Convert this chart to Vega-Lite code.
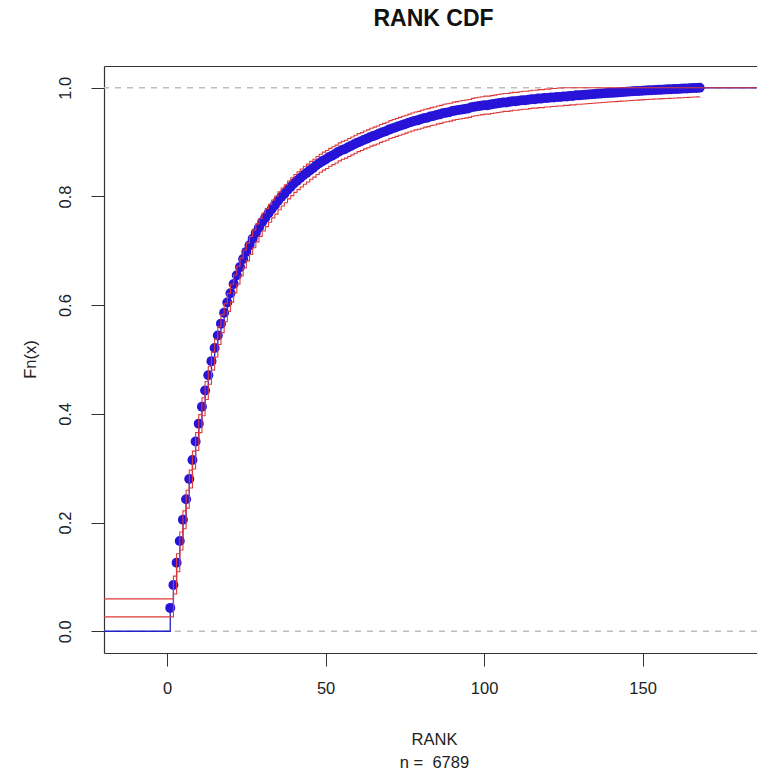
{
  "$schema": "https://vega.github.io/schema/vega-lite/v6.json",
  "autosize": {"type": "none"},
  "padding": {"left": 104, "top": 66, "right": 0, "bottom": 123},
  "width": 653,
  "height": 587,
  "background": "white",
  "title": {"text": "RANK CDF", "fontSize": 23, "fontWeight": "bold", "font": "Liberation Sans", "color": "#111", "anchor": "middle", "frame": "group", "dx": 3, "baseline": "alphabetic", "offset": 17},
  "datasets": {
    "refs": [{"y": 0}, {"y": 1}],
    "cdf": [
      {"x": -20, "F": 0, "lo": 0.0265, "hi": 0.0595},
      {"x": 1, "F": 0.043, "lo": 0.0265, "hi": 0.0595},
      {"x": 2, "F": 0.085, "lo": 0.0685, "hi": 0.1015},
      {"x": 3, "F": 0.126, "lo": 0.1095, "hi": 0.1425},
      {"x": 4, "F": 0.166, "lo": 0.1495, "hi": 0.1825},
      {"x": 5, "F": 0.205, "lo": 0.1885, "hi": 0.2215},
      {"x": 6, "F": 0.243, "lo": 0.2265, "hi": 0.2595},
      {"x": 7, "F": 0.280, "lo": 0.2635, "hi": 0.2965},
      {"x": 8, "F": 0.315, "lo": 0.2985, "hi": 0.3315},
      {"x": 9, "F": 0.349, "lo": 0.3325, "hi": 0.3655},
      {"x": 10, "F": 0.382, "lo": 0.3655, "hi": 0.3985},
      {"x": 11, "F": 0.413, "lo": 0.3965, "hi": 0.4295},
      {"x": 12, "F": 0.443, "lo": 0.4265, "hi": 0.4595},
      {"x": 13, "F": 0.471, "lo": 0.4545, "hi": 0.4875},
      {"x": 14, "F": 0.497, "lo": 0.4805, "hi": 0.5135},
      {"x": 15, "F": 0.521, "lo": 0.5045, "hi": 0.5375},
      {"x": 16, "F": 0.544, "lo": 0.5275, "hi": 0.5605},
      {"x": 17, "F": 0.566, "lo": 0.5495, "hi": 0.5825},
      {"x": 18, "F": 0.586, "lo": 0.5695, "hi": 0.6025},
      {"x": 19, "F": 0.605, "lo": 0.5885, "hi": 0.6215},
      {"x": 20, "F": 0.622, "lo": 0.6055, "hi": 0.6385},
      {"x": 21, "F": 0.639, "lo": 0.6225, "hi": 0.6555},
      {"x": 22, "F": 0.655, "lo": 0.6385, "hi": 0.6715},
      {"x": 23, "F": 0.670, "lo": 0.6535, "hi": 0.6865},
      {"x": 24, "F": 0.685, "lo": 0.6685, "hi": 0.7015},
      {"x": 25, "F": 0.698, "lo": 0.6815, "hi": 0.7145},
      {"x": 26, "F": 0.710, "lo": 0.6935, "hi": 0.7265},
      {"x": 27, "F": 0.722, "lo": 0.7055, "hi": 0.7385},
      {"x": 28, "F": 0.733, "lo": 0.7165, "hi": 0.7495},
      {"x": 29, "F": 0.743, "lo": 0.7265, "hi": 0.7595},
      {"x": 30, "F": 0.753, "lo": 0.7365, "hi": 0.7695},
      {"x": 31, "F": 0.761, "lo": 0.7445, "hi": 0.7775},
      {"x": 32, "F": 0.769, "lo": 0.7525, "hi": 0.7855},
      {"x": 33, "F": 0.777, "lo": 0.7605, "hi": 0.7935},
      {"x": 34, "F": 0.784, "lo": 0.7675, "hi": 0.8005},
      {"x": 35, "F": 0.792, "lo": 0.7755, "hi": 0.8085},
      {"x": 36, "F": 0.799, "lo": 0.7825, "hi": 0.8155},
      {"x": 37, "F": 0.805, "lo": 0.7885, "hi": 0.8215},
      {"x": 38, "F": 0.812, "lo": 0.7955, "hi": 0.8285},
      {"x": 39, "F": 0.818, "lo": 0.8015, "hi": 0.8345},
      {"x": 40, "F": 0.824, "lo": 0.8075, "hi": 0.8405},
      {"x": 41, "F": 0.829, "lo": 0.8125, "hi": 0.8455},
      {"x": 42, "F": 0.834, "lo": 0.8175, "hi": 0.8505},
      {"x": 43, "F": 0.839, "lo": 0.8225, "hi": 0.8555},
      {"x": 44, "F": 0.843, "lo": 0.8265, "hi": 0.8595},
      {"x": 45, "F": 0.848, "lo": 0.8315, "hi": 0.8645},
      {"x": 46, "F": 0.852, "lo": 0.8355, "hi": 0.8685},
      {"x": 47, "F": 0.857, "lo": 0.8405, "hi": 0.8735},
      {"x": 48, "F": 0.861, "lo": 0.8445, "hi": 0.8775},
      {"x": 49, "F": 0.865, "lo": 0.8485, "hi": 0.8815},
      {"x": 50, "F": 0.868, "lo": 0.8515, "hi": 0.8845},
      {"x": 51, "F": 0.872, "lo": 0.8555, "hi": 0.8885},
      {"x": 52, "F": 0.875, "lo": 0.8585, "hi": 0.8915},
      {"x": 53, "F": 0.878, "lo": 0.8615, "hi": 0.8945},
      {"x": 54, "F": 0.882, "lo": 0.8655, "hi": 0.8985},
      {"x": 55, "F": 0.885, "lo": 0.8685, "hi": 0.9015},
      {"x": 56, "F": 0.887, "lo": 0.8705, "hi": 0.9035},
      {"x": 57, "F": 0.890, "lo": 0.8735, "hi": 0.9065},
      {"x": 58, "F": 0.893, "lo": 0.8765, "hi": 0.9095},
      {"x": 59, "F": 0.896, "lo": 0.8795, "hi": 0.9125},
      {"x": 60, "F": 0.899, "lo": 0.8825, "hi": 0.9155},
      {"x": 61, "F": 0.901, "lo": 0.8845, "hi": 0.9175},
      {"x": 62, "F": 0.904, "lo": 0.8875, "hi": 0.9205},
      {"x": 63, "F": 0.906, "lo": 0.8895, "hi": 0.9225},
      {"x": 64, "F": 0.909, "lo": 0.8925, "hi": 0.9255},
      {"x": 65, "F": 0.911, "lo": 0.8945, "hi": 0.9275},
      {"x": 66, "F": 0.913, "lo": 0.8965, "hi": 0.9295},
      {"x": 67, "F": 0.916, "lo": 0.8995, "hi": 0.9325},
      {"x": 68, "F": 0.918, "lo": 0.9015, "hi": 0.9345},
      {"x": 69, "F": 0.920, "lo": 0.9035, "hi": 0.9365},
      {"x": 70, "F": 0.923, "lo": 0.9065, "hi": 0.9395},
      {"x": 71, "F": 0.925, "lo": 0.9085, "hi": 0.9415},
      {"x": 72, "F": 0.927, "lo": 0.9105, "hi": 0.9435},
      {"x": 73, "F": 0.929, "lo": 0.9125, "hi": 0.9455},
      {"x": 74, "F": 0.931, "lo": 0.9145, "hi": 0.9475},
      {"x": 75, "F": 0.933, "lo": 0.9165, "hi": 0.9495},
      {"x": 76, "F": 0.935, "lo": 0.9185, "hi": 0.9515},
      {"x": 77, "F": 0.937, "lo": 0.9205, "hi": 0.9535},
      {"x": 78, "F": 0.939, "lo": 0.9225, "hi": 0.9555},
      {"x": 79, "F": 0.940, "lo": 0.9235, "hi": 0.9565},
      {"x": 80, "F": 0.942, "lo": 0.9255, "hi": 0.9585},
      {"x": 81, "F": 0.944, "lo": 0.9275, "hi": 0.9605},
      {"x": 82, "F": 0.945, "lo": 0.9285, "hi": 0.9615},
      {"x": 83, "F": 0.947, "lo": 0.9305, "hi": 0.9635},
      {"x": 84, "F": 0.948, "lo": 0.9315, "hi": 0.9645},
      {"x": 85, "F": 0.950, "lo": 0.9335, "hi": 0.9665},
      {"x": 86, "F": 0.951, "lo": 0.9345, "hi": 0.9675},
      {"x": 87, "F": 0.953, "lo": 0.9365, "hi": 0.9695},
      {"x": 88, "F": 0.954, "lo": 0.9375, "hi": 0.9705},
      {"x": 89, "F": 0.955, "lo": 0.9385, "hi": 0.9715},
      {"x": 90, "F": 0.957, "lo": 0.9405, "hi": 0.9735},
      {"x": 91, "F": 0.958, "lo": 0.9415, "hi": 0.9745},
      {"x": 92, "F": 0.959, "lo": 0.9425, "hi": 0.9755},
      {"x": 93, "F": 0.960, "lo": 0.9435, "hi": 0.9765},
      {"x": 94, "F": 0.961, "lo": 0.9445, "hi": 0.9775},
      {"x": 95, "F": 0.962, "lo": 0.9455, "hi": 0.9785},
      {"x": 96, "F": 0.964, "lo": 0.9475, "hi": 0.9805},
      {"x": 97, "F": 0.965, "lo": 0.9485, "hi": 0.9815},
      {"x": 98, "F": 0.966, "lo": 0.9495, "hi": 0.9825},
      {"x": 99, "F": 0.967, "lo": 0.9505, "hi": 0.9835},
      {"x": 100, "F": 0.968, "lo": 0.9515, "hi": 0.9845},
      {"x": 101, "F": 0.968, "lo": 0.9515, "hi": 0.9845},
      {"x": 102, "F": 0.969, "lo": 0.9525, "hi": 0.9855},
      {"x": 103, "F": 0.970, "lo": 0.9535, "hi": 0.9865},
      {"x": 104, "F": 0.971, "lo": 0.9545, "hi": 0.9875},
      {"x": 105, "F": 0.972, "lo": 0.9555, "hi": 0.9885},
      {"x": 106, "F": 0.973, "lo": 0.9565, "hi": 0.9895},
      {"x": 107, "F": 0.973, "lo": 0.9565, "hi": 0.9895},
      {"x": 108, "F": 0.974, "lo": 0.9575, "hi": 0.9905},
      {"x": 109, "F": 0.975, "lo": 0.9585, "hi": 0.9915},
      {"x": 110, "F": 0.975, "lo": 0.9585, "hi": 0.9915},
      {"x": 111, "F": 0.976, "lo": 0.9595, "hi": 0.9925},
      {"x": 112, "F": 0.977, "lo": 0.9605, "hi": 0.9935},
      {"x": 113, "F": 0.977, "lo": 0.9605, "hi": 0.9935},
      {"x": 114, "F": 0.978, "lo": 0.9615, "hi": 0.9945},
      {"x": 115, "F": 0.979, "lo": 0.9625, "hi": 0.9955},
      {"x": 116, "F": 0.979, "lo": 0.9625, "hi": 0.9955},
      {"x": 117, "F": 0.980, "lo": 0.9635, "hi": 0.9965},
      {"x": 118, "F": 0.980, "lo": 0.9635, "hi": 0.9965},
      {"x": 119, "F": 0.981, "lo": 0.9645, "hi": 0.9975},
      {"x": 120, "F": 0.981, "lo": 0.9645, "hi": 0.9975},
      {"x": 121, "F": 0.982, "lo": 0.9655, "hi": 0.9985},
      {"x": 122, "F": 0.982, "lo": 0.9655, "hi": 0.9985},
      {"x": 123, "F": 0.983, "lo": 0.9665, "hi": 0.9995},
      {"x": 124, "F": 0.983, "lo": 0.9665, "hi": 0.9995},
      {"x": 125, "F": 0.984, "lo": 0.9675, "hi": 1},
      {"x": 126, "F": 0.984, "lo": 0.9675, "hi": 1},
      {"x": 127, "F": 0.985, "lo": 0.9685, "hi": 1},
      {"x": 128, "F": 0.985, "lo": 0.9685, "hi": 1},
      {"x": 129, "F": 0.986, "lo": 0.9695, "hi": 1},
      {"x": 130, "F": 0.986, "lo": 0.9695, "hi": 1},
      {"x": 131, "F": 0.9865, "lo": 0.97, "hi": 1},
      {"x": 132, "F": 0.987, "lo": 0.9705, "hi": 1},
      {"x": 133, "F": 0.9875, "lo": 0.971, "hi": 1},
      {"x": 134, "F": 0.988, "lo": 0.9715, "hi": 1},
      {"x": 135, "F": 0.9885, "lo": 0.972, "hi": 1},
      {"x": 136, "F": 0.989, "lo": 0.9725, "hi": 1},
      {"x": 137, "F": 0.9894, "lo": 0.9729, "hi": 1},
      {"x": 138, "F": 0.9898, "lo": 0.9733, "hi": 1},
      {"x": 139, "F": 0.9902, "lo": 0.9737, "hi": 1},
      {"x": 140, "F": 0.9906, "lo": 0.9741, "hi": 1},
      {"x": 141, "F": 0.991, "lo": 0.9745, "hi": 1},
      {"x": 142, "F": 0.9914, "lo": 0.9749, "hi": 1},
      {"x": 143, "F": 0.9918, "lo": 0.9753, "hi": 1},
      {"x": 144, "F": 0.9922, "lo": 0.9757, "hi": 1},
      {"x": 145, "F": 0.9926, "lo": 0.9761, "hi": 1},
      {"x": 146, "F": 0.993, "lo": 0.9765, "hi": 1},
      {"x": 147, "F": 0.9934, "lo": 0.9769, "hi": 1},
      {"x": 148, "F": 0.9938, "lo": 0.9773, "hi": 1},
      {"x": 149, "F": 0.9942, "lo": 0.9777, "hi": 1},
      {"x": 150, "F": 0.9946, "lo": 0.9781, "hi": 1},
      {"x": 151, "F": 0.9949, "lo": 0.9784, "hi": 1},
      {"x": 152, "F": 0.9952, "lo": 0.9787, "hi": 1},
      {"x": 153, "F": 0.9955, "lo": 0.979, "hi": 1},
      {"x": 154, "F": 0.9958, "lo": 0.9793, "hi": 1},
      {"x": 155, "F": 0.9961, "lo": 0.9796, "hi": 1},
      {"x": 156, "F": 0.9964, "lo": 0.9799, "hi": 1},
      {"x": 157, "F": 0.9967, "lo": 0.9802, "hi": 1},
      {"x": 158, "F": 0.997, "lo": 0.9805, "hi": 1},
      {"x": 159, "F": 0.9973, "lo": 0.9808, "hi": 1},
      {"x": 160, "F": 0.9976, "lo": 0.9811, "hi": 1},
      {"x": 161, "F": 0.9979, "lo": 0.9814, "hi": 1},
      {"x": 162, "F": 0.9982, "lo": 0.9817, "hi": 1},
      {"x": 163, "F": 0.9985, "lo": 0.982, "hi": 1},
      {"x": 164, "F": 0.9988, "lo": 0.9823, "hi": 1},
      {"x": 165, "F": 0.9991, "lo": 0.9826, "hi": 1},
      {"x": 166, "F": 0.9994, "lo": 0.9829, "hi": 1},
      {"x": 167, "F": 0.9997, "lo": 0.9832, "hi": 1},
      {"x": 168, "F": 1, "lo": 0.9835, "hi": 1},
      {"x": 186, "F": 1, "lo": null, "hi": 1}
    ]
  },
  "resolve": {"axis": {"x": "independent", "y": "independent"}},
  "layer": [
    {
      "data": {"name": "refs"},
      "mark": {"type": "rule", "color": "#bdbdbd", "strokeDash": [6, 6], "strokeWidth": 1.5},
      "encoding": {
        "y": {"field": "y", "type": "quantitative", "scale": {"domain": [-0.04, 1.04], "nice": false, "zero": false}, "axis": null}
      }
    },
    {
      "data": {"name": "cdf"},
      "mark": {"type": "line", "interpolate": "step-after", "color": "#2222c8", "strokeWidth": 1.3, "clip": true},
      "encoding": {
        "x": {"field": "x", "type": "quantitative", "scale": {"domain": [-19.9, 186.1], "nice": false, "zero": false},
              "axis": {"orient": "top", "labels": false, "ticks": false, "title": null, "grid": false, "domain": true, "domainColor": "#333", "domainWidth": 1.2}},
        "y": {"field": "F", "type": "quantitative", "scale": {"domain": [-0.04, 1.04], "nice": false, "zero": false}, "axis": null}
      }
    },
    {
      "data": {"name": "cdf"},
      "transform": [{"filter": "datum.x >= 1 && datum.x <= 168"}],
      "mark": {"type": "circle", "color": "#2814d8", "opacity": 1, "size": 100, "clip": true},
      "encoding": {
        "x": {"field": "x", "type": "quantitative", "scale": {"domain": [-19.9, 186.1], "nice": false, "zero": false},
              "axis": {"values": [0, 50, 100, 150], "grid": false, "domain": true, "domainColor": "#333", "domainWidth": 1.2,
                       "tickSize": 13, "tickColor": "#333", "tickWidth": 1, "labelFontSize": 16.5, "labelFont": "Liberation Sans", "labelColor": "#222",
                       "labelPadding": 14, "labelBaseline": "top",
                       "title": ["RANK", "n = \u00a06789"], "titleFontSize": 16.5, "titleFontWeight": "normal", "titleFont": "Liberation Sans", "titleColor": "#222",
                       "titleLineHeight": 23, "titleBaseline": "top", "titleAlign": "center", "titleAnchor": "middle", "titleY": 78, "titleX": 330}},
        "y": {"field": "F", "type": "quantitative", "scale": {"domain": [-0.04, 1.04], "nice": false, "zero": false},
              "axis": {"values": [0, 0.2, 0.4, 0.6, 0.8, 1.0], "format": ".1f", "grid": false, "domain": true, "domainColor": "#333", "domainWidth": 1.2,
                       "tickSize": 13, "tickColor": "#333", "tickWidth": 1, "labelFontSize": 16.5, "labelFont": "Liberation Sans", "labelColor": "#222",
                       "labelAngle": 270, "labelAlign": "center", "labelBaseline": "bottom", "labelPadding": 18,
                       "title": "Fn(x)", "titleFontSize": 16.5, "titleFontWeight": "normal", "titleFont": "Liberation Sans", "titleColor": "#222",
                       "titleAngle": 270, "titleAlign": "center", "titleBaseline": "middle", "titleX": -74, "titleY": 293}}
      }
    },
    {
      "data": {"name": "cdf"},
      "mark": {"type": "line", "interpolate": "step-after", "color": "#dd3b3b", "strokeWidth": 1.1, "clip": true},
      "encoding": {
        "x": {"field": "x", "type": "quantitative", "scale": {"domain": [-19.9, 186.1], "nice": false, "zero": false}, "axis": null},
        "y": {"field": "lo", "type": "quantitative", "scale": {"domain": [-0.04, 1.04], "nice": false, "zero": false}, "axis": null}
      }
    },
    {
      "data": {"name": "cdf"},
      "mark": {"type": "line", "interpolate": "step-after", "color": "#dd3b3b", "strokeWidth": 1.1, "clip": true},
      "encoding": {
        "x": {"field": "x", "type": "quantitative", "scale": {"domain": [-19.9, 186.1], "nice": false, "zero": false}, "axis": null},
        "y": {"field": "hi", "type": "quantitative", "scale": {"domain": [-0.04, 1.04], "nice": false, "zero": false}, "axis": null}
      }
    }
  ],
  "config": {"view": {"stroke": null}, "font": "Liberation Sans"}
}
